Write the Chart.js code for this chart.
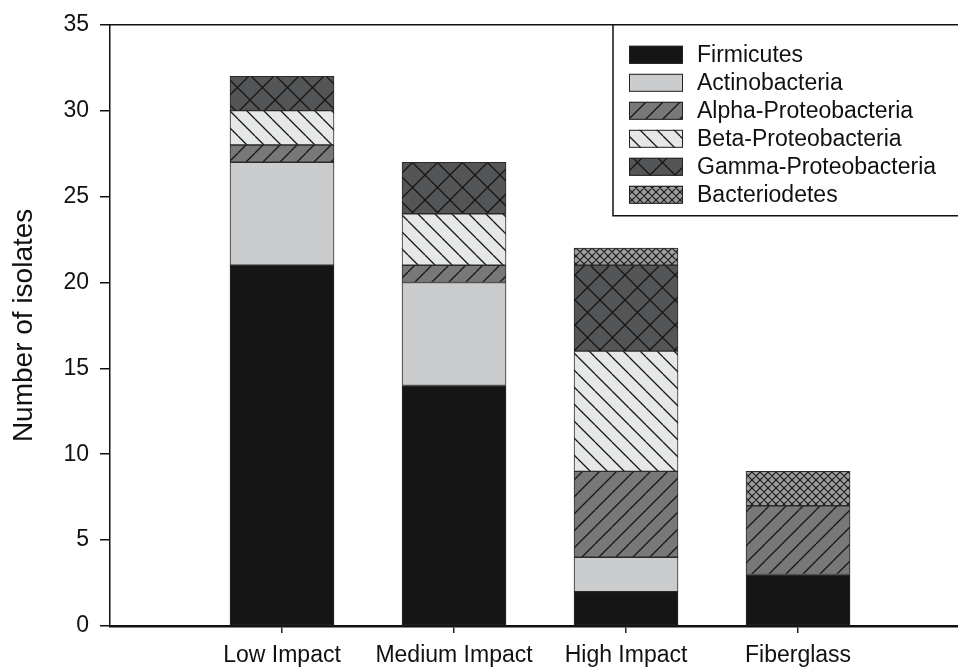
<!DOCTYPE html>
<html>
<head>
<meta charset="utf-8">
<script src="https://cdn.jsdelivr.net/npm/chart.js@4/dist/chart.umd.min.js"></script>
<style>
  html, body { margin: 0; padding: 0; background: #fff; }
  #wrap { width: 958px; height: 669px; }
</style>
</head>
<body>
<div id="wrap"><canvas id="chart" width="958" height="669"></canvas></div>
<script>
const categories = ['Low Impact', 'Medium Impact', 'High Impact', 'Fiberglass'];
const categoryPositions = [1, 2, 3, 4];

const firmicutes = [21, 14, 2, 3];
const actinobacteria = [6, 6, 2, null];
const alphaProteo = [1, 1, 5, 4];
const betaProteo = [2, 3, 7, null];
const gammaProteo = [2, 3, 5, null];
const bacteriodetes = [null, null, 1, 2];

const yTicks = [0, 5, 10, 15, 20, 25, 30, 35];

const FONT = '"Liberation Sans", Arial, Helvetica, sans-serif';

// hatch fill as a repeating canvas pattern
function hatch(bg, size, fwd, back, lineW) {
  const c = document.createElement('canvas');
  c.width = size;
  c.height = size;
  const g = c.getContext('2d');
  g.fillStyle = bg;
  g.fillRect(0, 0, size, size);
  g.strokeStyle = '#161616';
  g.lineWidth = lineW;
  g.beginPath();
  if (fwd) {
    for (let k = -1; k <= 1; k++) {
      g.moveTo(k * size, size);
      g.lineTo(k * size + size, 0);
    }
  }
  if (back) {
    for (let k = -1; k <= 1; k++) {
      g.moveTo(k * size, 0);
      g.lineTo(k * size + size, size);
    }
  }
  g.stroke();
  return g.createPattern(c, 'repeat');
}

const fills = {
  firm: '#151515',
  actino: '#cbccce',
  alpha: hatch('#77787a', 17, true, false, 1.3),
  beta: hatch('#e6e7e8', 17, false, true, 1.3),
  gamma: hatch('#545557', 25, true, true, 1.3),
  bact: hatch('#9c9c9c', 8, true, true, 1.1)
};

function points(values) {
  return values.map((v, i) => ({ x: categoryPositions[i], y: v }));
}

const seriesDefs = [
  { label: 'Firmicutes', values: firmicutes, fill: fills.firm },
  { label: 'Actinobacteria', values: actinobacteria, fill: fills.actino },
  { label: 'Alpha-Proteobacteria', values: alphaProteo, fill: fills.alpha },
  { label: 'Beta-Proteobacteria', values: betaProteo, fill: fills.beta },
  { label: 'Gamma-Proteobacteria', values: gammaProteo, fill: fills.gamma },
  { label: 'Bacteriodetes', values: bacteriodetes, fill: fills.bact }
];

// boxed legend inside the plot, top right, plus the frame's top line
const boxLegend = {
  id: 'boxLegend',
  afterDraw(chart) {
    const ctx = chart.ctx;
    const area = chart.chartArea;
    ctx.save();
    ctx.strokeStyle = '#111';
    ctx.lineWidth = 1.5;
    ctx.beginPath();
    ctx.moveTo(area.left, area.top);
    ctx.lineTo(chart.width, area.top);
    ctx.stroke();

    const left = area.left + 503;
    const top = area.top;
    ctx.beginPath();
    ctx.moveTo(left, top);
    ctx.lineTo(left, top + 191);
    ctx.lineTo(chart.width, top + 191);
    ctx.stroke();

    ctx.font = '23px ' + FONT;
    ctx.textBaseline = 'middle';
    chart.data.datasets.forEach((ds, i) => {
      const cy = top + 30 + i * 28;
      ctx.fillStyle = ds.backgroundColor;
      ctx.fillRect(left + 16, cy - 9, 54, 18);
      ctx.lineWidth = 1;
      ctx.strokeStyle = '#222';
      ctx.strokeRect(left + 16.5, cy - 8.5, 53, 17);
      ctx.fillStyle = '#111';
      ctx.fillText(ds.label, left + 84, cy + 1);
    });
    ctx.restore();
  }
};

new Chart(document.getElementById('chart'), {
  type: 'bar',
  data: {
    datasets: seriesDefs.map((s) => ({
      label: s.label,
      data: points(s.values),
      backgroundColor: s.fill,
      borderColor: '#2a2a2a',
      borderWidth: 1,
      borderSkipped: false,
      barThickness: 104
    }))
  },
  options: {
    responsive: false,
    animation: false,
    layout: { padding: { top: 24, right: 0, bottom: 0, left: 0 } },
    plugins: {
      legend: { display: false },
      tooltip: { enabled: false }
    },
    scales: {
      x: {
        type: 'linear',
        stacked: true,
        offset: false,
        min: 0,
        max: 4.93,
        afterFit: (scale) => { scale.height = 43; },
        afterBuildTicks: (scale) => {
          scale.ticks = categoryPositions.map((v) => ({ value: v }));
        },
        border: { color: '#111', width: 2.5 },
        grid: {
          offset: false,
          drawOnChartArea: false,
          drawTicks: true,
          tickLength: 7,
          tickColor: '#222',
          lineWidth: 1.5
        },
        ticks: {
          autoSkip: false,
          maxRotation: 0,
          padding: 9,
          color: '#111',
          font: { family: FONT, size: 23 },
          callback: (v) => categories[categoryPositions.indexOf(v)] || ''
        }
      },
      y: {
        stacked: true,
        min: 0,
        max: 35,
        afterFit: (scale) => { scale.width = 110; },
        afterBuildTicks: (scale) => {
          scale.ticks = yTicks.map((v) => ({ value: v }));
        },
        border: { color: '#111', width: 1.5 },
        grid: {
          drawOnChartArea: false,
          drawTicks: true,
          tickLength: 10,
          tickColor: '#111',
          lineWidth: 1.5
        },
        ticks: {
          padding: 11,
          color: '#111',
          font: { family: FONT, size: 23 }
        },
        title: {
          display: true,
          text: 'Number of isolates',
          color: '#111',
          font: { family: FONT, size: 28 },
          padding: { top: 7, bottom: 0 }
        }
      }
    }
  },
  plugins: [boxLegend]
});
</script>
</body>
</html>
